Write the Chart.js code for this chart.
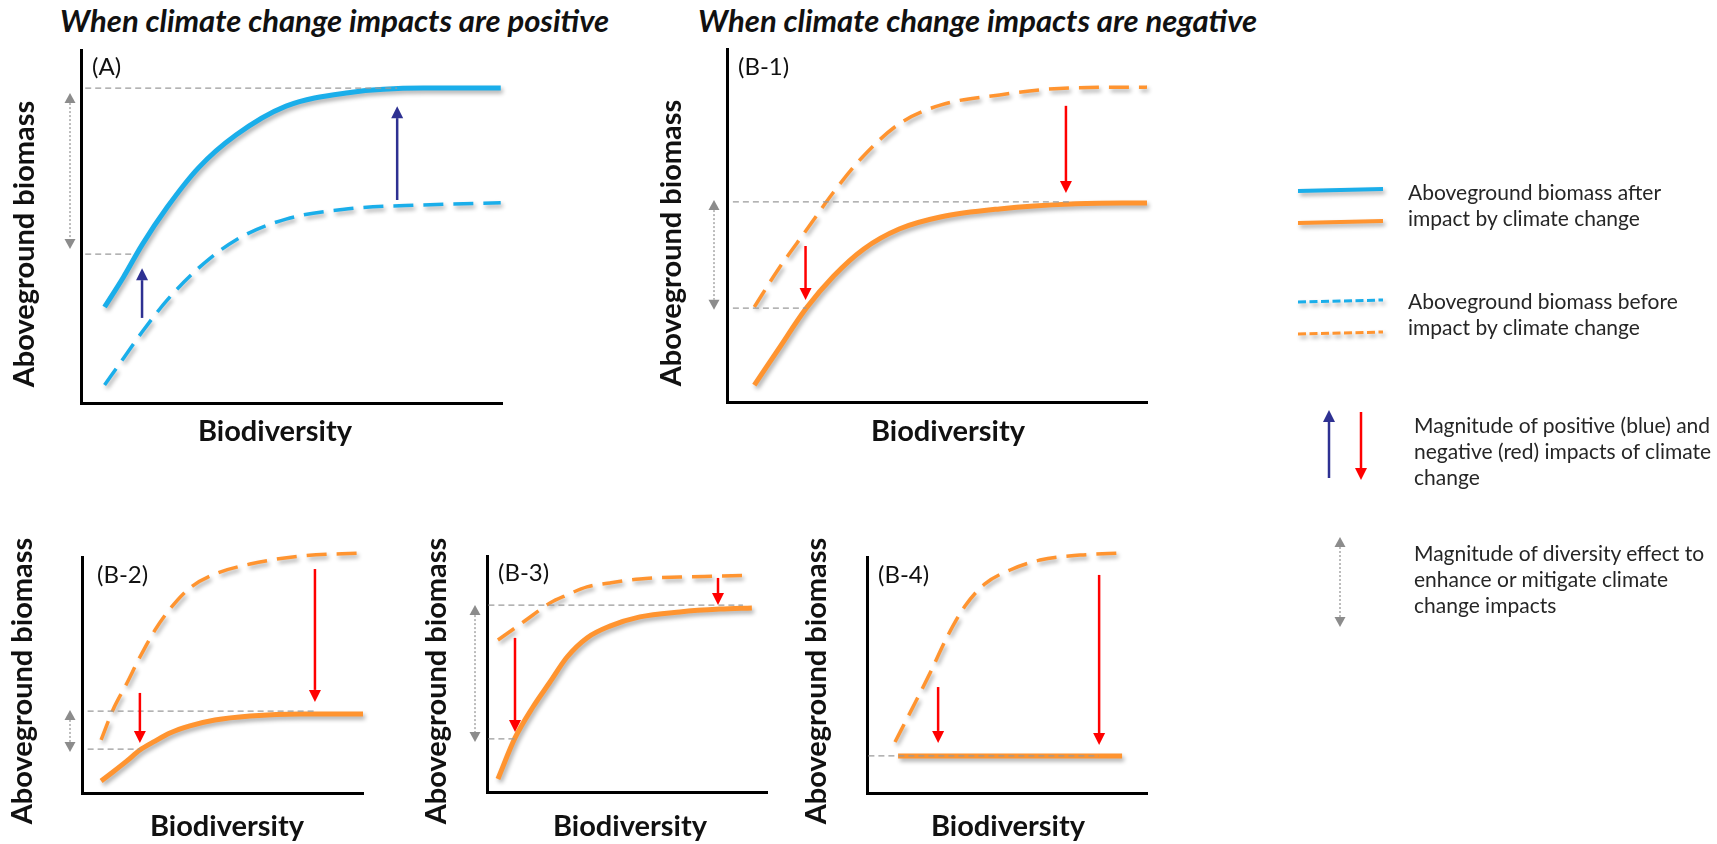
<!DOCTYPE html>
<html>
<head>
<meta charset="utf-8">
<script src="https://cdn.jsdelivr.net/npm/chart.js@4.4.1/dist/chart.umd.min.js"></script>
<style>
  html, body { margin: 0; padding: 0; background: #fff; }
  body { position: relative; width: 1717px; height: 844px; overflow: hidden; font-family: Lato, "Open Sans", sans-serif; color: #222; }
  canvas.layer { position: absolute; left: 0; top: 0; }
  .heading { position: absolute; top: 0; line-height: 40px; font-size: 31px; font-weight: bold; font-style: italic; color: #111; white-space: nowrap; }
  .key { position: absolute; font-size: 21px; line-height: 26px; color: #262626; white-space: nowrap; }
</style>
</head>
<body>
<div class="heading" style="left:60px">When climate change impacts are positive</div>
<div class="heading" style="left:698px">When climate change impacts are negative</div>

<canvas id="legendKeys" class="layer" width="1717" height="844"></canvas>
<canvas id="panelA" class="layer" width="1717" height="844"></canvas>
<canvas id="panelB1" class="layer" width="1717" height="844"></canvas>
<canvas id="panelB2" class="layer" width="1717" height="844"></canvas>
<canvas id="panelB3" class="layer" width="1717" height="844"></canvas>
<canvas id="panelB4" class="layer" width="1717" height="844"></canvas>

<div class="key" style="left:1408px;top:179px">Aboveground biomass after<br>impact by climate change</div>
<div class="key" style="left:1408px;top:288px">Aboveground biomass before<br>impact by climate change</div>
<div class="key" style="left:1414px;top:412px">Magnitude of positive (blue) and<br>negative (red) impacts of climate<br>change</div>
<div class="key" style="left:1414px;top:540px">Magnitude of diversity effect to<br>enhance or mitigate climate<br>change impacts</div>

<script>
// all values in % of each panel's axis length (0 = axis origin)
const xTitle = "Biodiversity";
const yTitle = "Aboveground biomass";

// (A) positive impacts
const aX = [5.6, 10.1, 14.5, 20.5, 27.9, 36.8, 48.7, 63.5, 81.3, 99.7];
const aAfter = [27.2, 35.7, 44.8, 55.5, 66.6, 75.9, 84.1, 87.9, 89.2, 89.2];
const aBefore = [5.1, 12.7, 20.1, 29.2, 38.2, 46.2, 52.1, 55.0, 56.1, 56.7];
const aImpacts = [[14.5, 24.1, 38.2], [75.1, 57.5, 84.1]]; // [x, from, to]
const aRefs = [[89.2, 1, 75.1], [42.2, 1, 12.4]]; // [y, x start, x end]
const aSpan = [87.8, 43.6];

// (B-1)
const b1X = [6.5, 12.1, 18.9, 25.4, 32.5, 41.0, 50.8, 64.9, 81.9, 100];
const b1After = [4.8, 14.7, 26.6, 35.7, 43.3, 49.0, 52.4, 54.7, 56.1, 56.4];
const b1Before = [26.9, 37.4, 48.7, 59.5, 69.7, 78.8, 84.1, 87.0, 89.0, 89.2];
const b1Impacts = [[18.7, 44.2, 28.9], [80.7, 83.9, 59.2]];
const b1Refs = [[56.7, 1.4, 82.4], [26.6, 1.4, 18.9]];
const b1Span = [57.2, 26.1];

// (B-2)
const b2X = [6.8, 11.0, 16.0, 20.6, 26.0, 31.3, 38.4, 47.3, 59.8, 77.6, 100];
const b2After = [5.1, 8.9, 13.6, 18.2, 22.0, 25.4, 28.4, 30.9, 32.6, 33.5, 33.5];
const b2Before = [22.5, 35.2, 46.6, 57.6, 69.1, 78.0, 86.9, 92.8, 97.0, 100.4, 101.7];
const b2Impacts = [[20.6, 42.4, 21.2], [82.9, 94.9, 38.6]];
const b2Refs = [[34.7, 2, 82.9], [18.6, 2, 20.6]];
const b2Span = [35.2, 17.4];

// (B-3)
const b3X = [3.9, 10.0, 16.4, 22.5, 28.6, 35.7, 43.9, 54.6, 68.9, 83.2, 94.6];
const b3After = [5.5, 22.9, 36.0, 46.6, 57.2, 65.3, 70.3, 74.2, 76.3, 77.5, 78.0];
const b3Before = [64.4, 69.5, 75.0, 80.1, 83.5, 86.9, 88.6, 90.3, 91.1, 91.5, 91.9];
const b3Impacts = [[10.0, 65.3, 25.4], [82.5, 90.7, 79.2]];
const b3Refs = [[79.2, 0.5, 91.4], [22.5, 0.5, 10.0]];
const b3Span = [79.2, 21.2];

// (B-4)
const b4X = [10.0, 16.4, 22.5, 28.6, 35.0, 42.1, 51.1, 61.8, 76.1, 91.4];
const b4Before = [21.6, 36.4, 50.8, 66.1, 79.2, 88.6, 94.5, 98.7, 100.8, 101.7];
const b4AfterX = [11.1, 91.1];
const b4After = [15.7, 15.7];
const b4Impacts = [[25.4, 44.9, 21.2], [82.9, 92.4, 20.3]];
const b4Refs = [[15.7, 0.5, 82.9]];

const W = 1717, H = 844;
const BLUE = "#1AAEEA", ORANGE = "#FF9430", NAVY = "#2E3192", RED = "#FF0000";

function drawArrow(ctx, x, y0, y1, color, width, headW, headL) {
  const dir = y1 > y0 ? 1 : -1;
  ctx.save();
  ctx.strokeStyle = color;
  ctx.fillStyle = color;
  ctx.lineWidth = width;
  ctx.beginPath();
  ctx.moveTo(x, y0);
  ctx.lineTo(x, y1 - dir * headL);
  ctx.stroke();
  ctx.beginPath();
  ctx.moveTo(x, y1);
  ctx.lineTo(x - headW / 2, y1 - dir * headL);
  ctx.lineTo(x + headW / 2, y1 - dir * headL);
  ctx.closePath();
  ctx.fill();
  ctx.restore();
}

function drawSpan(ctx, x, yTop, yBot) {
  const headW = 11, headL = 10;
  ctx.save();
  ctx.strokeStyle = "#a6a6a6";
  ctx.lineWidth = 1.5;
  ctx.setLineDash([2, 2]);
  ctx.beginPath();
  ctx.moveTo(x, yTop + headL);
  ctx.lineTo(x, yBot - headL);
  ctx.stroke();
  ctx.fillStyle = "#8c8c8c";
  ctx.beginPath();
  ctx.moveTo(x, yTop);
  ctx.lineTo(x - headW / 2, yTop + headL);
  ctx.lineTo(x + headW / 2, yTop + headL);
  ctx.closePath();
  ctx.fill();
  ctx.beginPath();
  ctx.moveTo(x, yBot);
  ctx.lineTo(x - headW / 2, yBot - headL);
  ctx.lineTo(x + headW / 2, yBot - headL);
  ctx.closePath();
  ctx.fill();
  ctx.restore();
}

function withShadow(ctx) {
  ctx.shadowColor = "rgba(0,0,0,0.32)";
  ctx.shadowBlur = 4;
  ctx.shadowOffsetX = 2;
  ctx.shadowOffsetY = 3;
}

const panelDecor = {
  id: "panelDecor",
  beforeDatasetDraw(chart) {
    chart.ctx.save();
    withShadow(chart.ctx);
  },
  afterDatasetDraw(chart) {
    chart.ctx.restore();
  },
  afterDatasetsDraw(chart, args, opts) {
    const { ctx, chartArea } = chart;
    const x = chart.scales.x, y = chart.scales.y;

    ctx.save();
    ctx.strokeStyle = "#9a9a9a";
    ctx.lineWidth = 1.2;
    ctx.setLineDash([6, 4]);
    opts.refs.forEach(([v, x0, x1]) => {
      const py = y.getPixelForValue(v);
      ctx.beginPath();
      ctx.moveTo(x.getPixelForValue(x0), py);
      ctx.lineTo(x.getPixelForValue(x1), py);
      ctx.stroke();
    });
    ctx.restore();

    if (opts.span) {
      drawSpan(ctx, chartArea.left + opts.spanOffset,
        y.getPixelForValue(opts.span[0]), y.getPixelForValue(opts.span[1]));
    }

    opts.impacts.forEach(([xv, from, to]) => {
      drawArrow(ctx, x.getPixelForValue(xv), y.getPixelForValue(from), y.getPixelForValue(to),
        opts.impactColor, 2.5, 12, 12);
    });

    ctx.save();
    ctx.fillStyle = "#111";
    ctx.textBaseline = "middle";
    ctx.textAlign = "left";
    ctx.font = "24px Lato";
    ctx.fillText(opts.tag, chartArea.left + opts.tagAt[0], chartArea.top + opts.tagAt[1]);
    ctx.textAlign = "center";
    ctx.font = "bold 29px Lato";
    ctx.fillText(xTitle, opts.xTitleAt[0], opts.xTitleAt[1]);
    ctx.translate(opts.yTitleAt[0], opts.yTitleAt[1]);
    ctx.rotate(-Math.PI / 2);
    ctx.fillText(yTitle, 0, 0);
    ctx.restore();
  }
};

function curve(xs, ys, color, dashed) {
  return {
    data: xs.map((v, i) => ({ x: v, y: ys[i] })),
    borderColor: color,
    borderWidth: dashed ? 3.5 : 5,
    borderDash: dashed ? [20, 10] : [],
    pointRadius: 0,
    cubicInterpolationMode: "monotone",
    clip: false,
    fill: false
  };
}

function axis() {
  return {
    type: "linear",
    min: 0,
    max: 100,
    ticks: { display: false },
    grid: { display: false, drawTicks: false },
    border: { display: true, color: "#000", width: 3 }
  };
}

function makePanel(id, area, datasets, decor) {
  return new Chart(document.getElementById(id), {
    type: "line",
    data: { datasets },
    options: {
      responsive: false,
      animation: false,
      events: [],
      layout: {
        padding: { left: area.left, top: area.top, right: W - area.right, bottom: H - area.bottom }
      },
      scales: { x: axis(), y: axis() },
      plugins: { legend: { display: false }, tooltip: { enabled: false }, panelDecor: decor }
    },
    plugins: [panelDecor]
  });
}

makePanel("panelA", { left: 81, right: 502, top: 50, bottom: 403 },
  [curve(aX, aAfter, BLUE, false), curve(aX, aBefore, BLUE, true)],
  { tag: "(A)", tagAt: [11, 17], xTitleAt: [275, 432], yTitleAt: [25, 244],
    impacts: aImpacts, impactColor: NAVY, refs: aRefs, span: aSpan, spanOffset: -11 });

makePanel("panelB1", { left: 727, right: 1147, top: 49, bottom: 402 },
  [curve(b1X, b1After, ORANGE, false), curve(b1X, b1Before, ORANGE, true)],
  { tag: "(B-1)", tagAt: [11, 18], xTitleAt: [948, 432], yTitleAt: [672, 243],
    impacts: b1Impacts, impactColor: RED, refs: b1Refs, span: b1Span, spanOffset: -13 });

makePanel("panelB2", { left: 82, right: 363, top: 557, bottom: 793 },
  [curve(b2X, b2After, ORANGE, false), curve(b2X, b2Before, ORANGE, true)],
  { tag: "(B-2)", tagAt: [15, 18], xTitleAt: [227, 827], yTitleAt: [23, 681],
    impacts: b2Impacts, impactColor: RED, refs: b2Refs, span: b2Span, spanOffset: -12 });

makePanel("panelB3", { left: 487, right: 767, top: 556, bottom: 792 },
  [curve(b3X, b3After, ORANGE, false), curve(b3X, b3Before, ORANGE, true)],
  { tag: "(B-3)", tagAt: [11, 17], xTitleAt: [630, 827], yTitleAt: [437, 681],
    impacts: b3Impacts, impactColor: RED, refs: b3Refs, span: b3Span, spanOffset: -12 });

makePanel("panelB4", { left: 867, right: 1147, top: 557, bottom: 793 },
  [curve(b4AfterX, b4After, ORANGE, false), curve(b4X, b4Before, ORANGE, true)],
  { tag: "(B-4)", tagAt: [11, 18], xTitleAt: [1008, 827], yTitleAt: [817, 681],
    impacts: b4Impacts, impactColor: RED, refs: b4Refs, span: null });

// legend symbols
const k = document.getElementById("legendKeys").getContext("2d");
function keyLine(yPos, color, dashed) {
  k.save();
  withShadow(k);
  k.strokeStyle = color;
  k.lineWidth = dashed ? 3 : 4;
  k.setLineDash(dashed ? [8, 3.5] : []);
  k.beginPath();
  k.moveTo(1298, yPos + 1);
  k.lineTo(1383, yPos - 1);
  k.stroke();
  k.restore();
}
keyLine(190, BLUE, false);
keyLine(222, ORANGE, false);
keyLine(301, BLUE, true);
keyLine(333, ORANGE, true);
drawArrow(k, 1329, 478, 410, NAVY, 2.5, 12, 12);
drawArrow(k, 1361, 412, 480, RED, 2.5, 12, 12);
drawSpan(k, 1340, 537, 627);
</script>
</body>
</html>
